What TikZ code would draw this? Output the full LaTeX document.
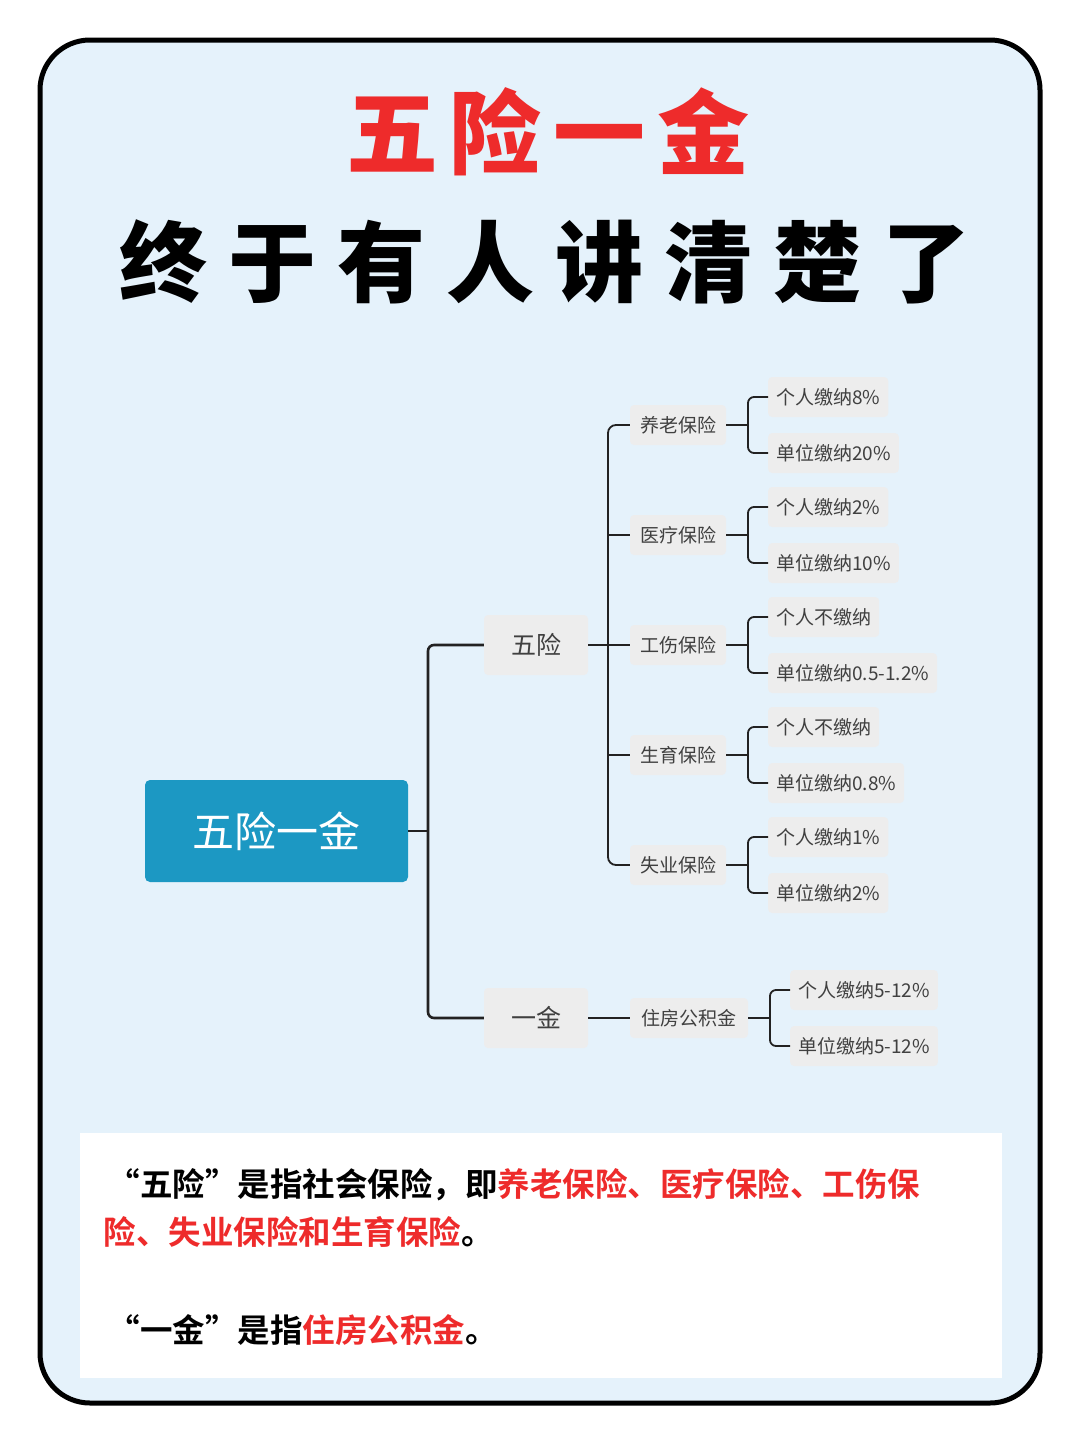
\documentclass[tikz,border=0pt]{standalone}
\usepackage{fontspec}
\setmainfont{Noto Sans CJK SC}
\newfontfamily\cjkb{Noto Sans CJK SC Black}
\newfontfamily\cjkbold{Noto Sans CJK SC Bold}
\definecolor{bgblue}{HTML}{E5F2FB}
\definecolor{rootc}{HTML}{1C98C3}
\definecolor{boxg}{HTML}{EDEDED}
\definecolor{redc}{HTML}{EE2B2B}
\definecolor{linec}{HTML}{222222}
\tikzset{
 gbox/.style={fill=boxg,rounded corners=4pt,inner sep=0pt,minimum height=40,font=\fontsize{19}{19}\selectfont,text=black!75},
 leaf/.style={gbox,anchor=west,inner xsep=8pt},
 conn/.style={draw=linec,line width=2.6pt,rounded corners=6pt},
 thin/.style={draw=linec,line width=1.8pt,rounded corners=8pt}
}
\begin{document}
\begin{tikzpicture}[x=1pt,y=-1pt]
\useasboundingbox (0,0) rectangle (1080,1443);
\fill[white] (0,0) rectangle (1080,1443);
\draw[line width=5pt,fill=bgblue,rounded corners=50pt] (40,40) rectangle (1040,1403);
\node[text=redc,font=\cjkb\fontsize{92}{92}\selectfont] (t1) at (548,132) {五\hspace{12pt}险\hspace{12pt}一\hspace{12pt}金};
\node[font=\cjkb\fontsize{88}{88}\selectfont] (t2) at (545,262) {终\hspace{21pt}于\hspace{21pt}有\hspace{21pt}人\hspace{21pt}讲\hspace{21pt}清\hspace{21pt}楚\hspace{21pt}了};
% root
\node[fill=rootc,rounded corners=5pt,minimum width=263,minimum height=102,text=white,font=\fontsize{42}{42}\selectfont] (root) at (276.5,831) {五险一金};
\node[gbox,minimum width=104,minimum height=60,font=\fontsize{25}{25}\selectfont] (wx) at (536,645) {五险};
\node[gbox,minimum width=104,minimum height=60,font=\fontsize{25}{25}\selectfont] (yj) at (536,1018) {一金};
\coordinate (rj) at (428,831);
\draw[conn] (root.east) -- (rj);
\draw[conn] (wx.west) -| (rj) |- (yj.west);
% level 2
\foreach \n/\t/\y in {a/养老保险/425,b/医疗保险/535,c/工伤保险/645,d/生育保险/755,e/失业保险/865}{
 \node[gbox,minimum width=96] (\n) at (678,\y) {\t};
}
\node[gbox,minimum width=118] (f) at (689,1018) {住房公积金};
\coordinate (wj) at (608,645);
\draw[thin] (wx.east) -- (c.west);
\draw[thin] (a.west) -| (wj) |- (e.west);
\draw[thin] (b.west) -- (b.west -| wj);
\draw[thin] (d.west) -- (d.west -| wj);
\draw[thin] (yj.east) -- (f.west);
% leaves
\foreach \n/\y/\p/\q in {a/425/个人缴纳8\%/单位缴纳20\%,b/535/个人缴纳2\%/单位缴纳10\%,c/645/个人不缴纳/单位缴纳0.5-1.2\%,d/755/个人不缴纳/单位缴纳0.8\%,e/865/个人缴纳1\%/单位缴纳2\%}{
 \node[leaf] (\n1) at (768,\y-28) {\p};
 \node[leaf] (\n2) at (768,\y+28) {\q};
 \coordinate (\n j) at (748,\y);
 \draw[thin,rounded corners=6pt] (\n.east) -- (\n j);
 \draw[thin,rounded corners=6pt] (\n1.west) -| (\n j) |- (\n2.west);
}
\node[leaf] (f1) at (790,990) {个人缴纳5-12\%};
\node[leaf] (f2) at (790,1046) {单位缴纳5-12\%};
\coordinate (fj) at (770,1018);
\draw[thin,rounded corners=6pt] (f.east) -- (fj);
\draw[thin,rounded corners=6pt] (f1.west) -| (fj) |- (f2.west);
% bottom
\fill[white] (80,1133) rectangle (1002,1378);
\node[anchor=west,font=\cjkbold\fontsize{32.5}{32.5}\selectfont] (l1) at (104,1185) {“五险”是指社会保险，即\textcolor{redc}{养老保险、医疗保险、工伤保}};
\node[anchor=west,font=\cjkbold\fontsize{32.5}{32.5}\selectfont,text=redc] (l2) at (100,1232) {险、失业保险和生育保险\textcolor{black}{。}};
\node[anchor=west,font=\cjkbold\fontsize{32.5}{32.5}\selectfont] (l3) at (104,1330) {“一金”是指\textcolor{redc}{住房公积金}。};
\end{tikzpicture}
\end{document}
